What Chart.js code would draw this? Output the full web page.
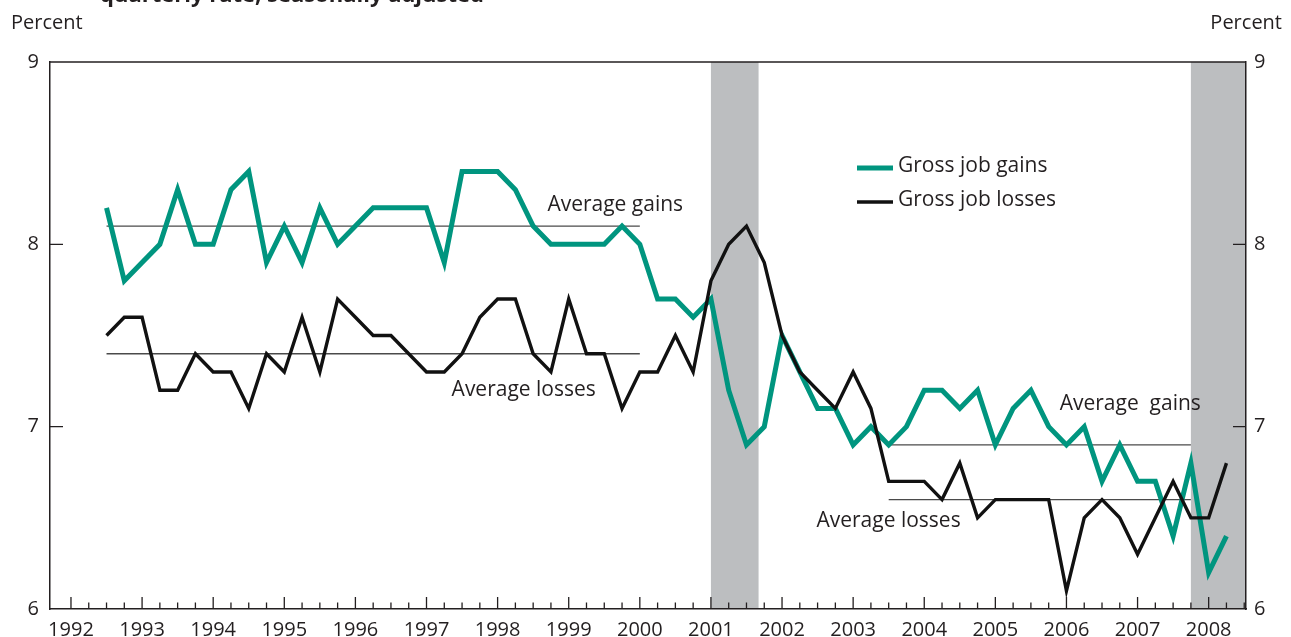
<!DOCTYPE html>
<html>
<head>
<meta charset="utf-8">
<script src="https://cdn.jsdelivr.net/npm/chart.js@4/dist/chart.umd.min.js"></script>
<style>
  html, body { margin: 0; padding: 0; background: #fff; }
  #wrap { width: 1291px; height: 637px; position: relative; }
</style>
</head>
<body>
<div id="wrap"><canvas id="myChart"></canvas></div>
<script>
// quarterly observations, 1992 Q3 - 2008 Q2
const quarters = [
  '1992Q3','1992Q4',
  '1993Q1','1993Q2','1993Q3','1993Q4',
  '1994Q1','1994Q2','1994Q3','1994Q4',
  '1995Q1','1995Q2','1995Q3','1995Q4',
  '1996Q1','1996Q2','1996Q3','1996Q4',
  '1997Q1','1997Q2','1997Q3','1997Q4',
  '1998Q1','1998Q2','1998Q3','1998Q4',
  '1999Q1','1999Q2','1999Q3','1999Q4',
  '2000Q1','2000Q2','2000Q3','2000Q4',
  '2001Q1','2001Q2','2001Q3','2001Q4',
  '2002Q1','2002Q2','2002Q3','2002Q4',
  '2003Q1','2003Q2','2003Q3','2003Q4',
  '2004Q1','2004Q2','2004Q3','2004Q4',
  '2005Q1','2005Q2','2005Q3','2005Q4',
  '2006Q1','2006Q2','2006Q3','2006Q4',
  '2007Q1','2007Q2','2007Q3','2007Q4',
  '2008Q1','2008Q2'
];

const grossJobGains = [
  8.2, 7.8,
  7.9, 8.0, 8.3, 8.0,
  8.0, 8.3, 8.4, 7.9,
  8.1, 7.9, 8.2, 8.0,
  8.1, 8.2, 8.2, 8.2,
  8.2, 7.9, 8.4, 8.4,
  8.4, 8.3, 8.1, 8.0,
  8.0, 8.0, 8.0, 8.1,
  8.0, 7.7, 7.7, 7.6,
  7.7, 7.2, 6.9, 7.0,
  7.5, 7.3, 7.1, 7.1,
  6.9, 7.0, 6.9, 7.0,
  7.2, 7.2, 7.1, 7.2,
  6.9, 7.1, 7.2, 7.0,
  6.9, 7.0, 6.7, 6.9,
  6.7, 6.7, 6.4, 6.8,
  6.2, 6.4
];

const grossJobLosses = [
  7.5, 7.6,
  7.6, 7.2, 7.2, 7.4,
  7.3, 7.3, 7.1, 7.4,
  7.3, 7.6, 7.3, 7.7,
  7.6, 7.5, 7.5, 7.4,
  7.3, 7.3, 7.4, 7.6,
  7.7, 7.7, 7.4, 7.3,
  7.7, 7.4, 7.4, 7.1,
  7.3, 7.3, 7.5, 7.3,
  7.8, 8.0, 8.1, 7.9,
  7.5, 7.3, 7.2, 7.1,
  7.3, 7.1, 6.7, 6.7,
  6.7, 6.6, 6.8, 6.5,
  6.6, 6.6, 6.6, 6.6,
  6.1, 6.5, 6.6, 6.5,
  6.3, 6.5, 6.7, 6.5,
  6.5, 6.8
];

// averages over two periods
const avgPeriodStart = ['1992Q3', '2003Q3'];
const avgPeriodEnd = ['2000Q1', '2007Q4'];
const avgGains = [8.1, 6.9];
const avgLosses = [7.4, 6.6];

// recession shading (decimal years); null end = runs to the edge of the chart
const recessionStart = [2001.0, 2007.75];
const recessionEnd = [2001.67, null];

const yearLabels = [1992, 1993, 1994, 1995, 1996, 1997, 1998, 1999, 2000,
                    2001, 2002, 2003, 2004, 2005, 2006, 2007, 2008];

const FONT = "'Open Sans', 'Noto Sans', sans-serif";
const INK = '#231f20';
const GREEN = '#00957f';

function toYear(q) {
  return Number(q.slice(0, 4)) + (Number(q.slice(5)) - 1) / 4;
}

const gainsPoints = quarters.map((q, i) => ({ x: toYear(q), y: grossJobGains[i] }));
const lossesPoints = quarters.map((q, i) => ({ x: toYear(q), y: grossJobLosses[i] }));

const avgDatasets = [];
avgPeriodStart.forEach((s, i) => {
  [avgGains[i], avgLosses[i]].forEach(v => {
    avgDatasets.push({
      label: 'avg',
      data: [{ x: toYear(s), y: v }, { x: toYear(avgPeriodEnd[i]), y: v }],
      borderColor: '#4a4a4a',
      borderWidth: 1.3,
      pointRadius: 0,
      order: 3
    });
  });
});

const decorations = {
  id: 'decorations',
  beforeDraw(chart) {
    const { ctx, chartArea: a, scales: { x } } = chart;
    ctx.save();
    ctx.fillStyle = '#bcbec0';
    recessionStart.forEach((s, i) => {
      const x0 = x.getPixelForValue(s);
      const x1 = recessionEnd[i] == null ? a.right : x.getPixelForValue(recessionEnd[i]);
      ctx.fillRect(x0, a.top, x1 - x0, a.bottom - a.top);
    });
    ctx.restore();
  },
  afterDraw(chart) {
    const { ctx, chartArea: a, scales: { x, y } } = chart;
    ctx.save();

    // top border
    ctx.strokeStyle = INK;
    ctx.lineWidth = 1.5;
    ctx.beginPath();
    ctx.moveTo(a.left, a.top);
    ctx.lineTo(a.right, a.top);
    ctx.stroke();

    // inner tick marks on the time axis
    ctx.lineWidth = 1.3;
    ctx.beginPath();
    for (let yr = yearLabels[0]; yr <= x.max; yr += 0.25) {
      const px = x.getPixelForValue(yr);
      const len = Number.isInteger(yr) ? 12 : 6.5;
      ctx.moveTo(px, a.bottom);
      ctx.lineTo(px, a.bottom - len);
    }
    // inner ticks on both value axes
    [7, 8].forEach(v => {
      const py = y.getPixelForValue(v);
      ctx.moveTo(a.left, py);
      ctx.lineTo(a.left + 13, py);
      ctx.moveTo(a.right, py);
      ctx.lineTo(a.right - 13, py);
    });
    ctx.stroke();

    // axis unit labels
    ctx.fillStyle = INK;
    ctx.font = '20px ' + FONT;
    ctx.textBaseline = 'alphabetic';
    ctx.textAlign = 'left';
    ctx.fillText('Percent', 11, 29);
    ctx.textAlign = 'right';
    ctx.fillText('Percent', 1282, 29);

    // clipped subtitle at the very top
    ctx.textAlign = 'left';
    ctx.font = 'bold 22px ' + FONT;
    ctx.fillText('quarterly rate, seasonally adjusted', 100, 2);

    // average annotations
    ctx.font = '21px ' + FONT;
    const notes = [
      ['Average gains', 1998.70, 8.185],
      ['Average losses', 1997.353, 7.166],
      ['Average  gains', 2005.905, 7.089],
      ['Average losses', 2002.484, 6.447]
    ];
    notes.forEach(([t, nx, ny]) => {
      ctx.fillText(t, x.getPixelForValue(nx), y.getPixelForValue(ny));
    });

    // legend
    const legendItems = chart.data.datasets.filter(d => d.label !== 'avg');
    legendItems.forEach((d, i) => {
      const ly = 168 + i * 34;
      ctx.strokeStyle = d.borderColor;
      ctx.lineWidth = d.borderWidth;
      ctx.beginPath();
      ctx.moveTo(857, ly);
      ctx.lineTo(893, ly);
      ctx.stroke();
      ctx.fillStyle = INK;
      ctx.fillText(d.label, 898, ly + 3.5);
    });

    ctx.restore();
  }
};

const ctx = document.getElementById('myChart').getContext('2d');
window.myChart = new Chart(ctx, {
  type: 'line',
  data: {
    datasets: [
      {
        label: 'Gross job gains',
        data: gainsPoints,
        borderColor: GREEN,
        borderWidth: 5,
        pointRadius: 0,
        borderJoinStyle: 'miter',
        order: 2
      },
      {
        label: 'Gross job losses',
        data: lossesPoints,
        borderColor: '#111111',
        borderWidth: 3.4,
        pointRadius: 0,
        borderJoinStyle: 'miter',
        order: 1
      },
      ...avgDatasets
    ]
  },
  options: {
    responsive: true,
    maintainAspectRatio: false,
    animation: false,
    layout: { padding: { top: 62, left: 0, right: 0, bottom: 0 } },
    plugins: {
      legend: { display: false },
      tooltip: { enabled: false }
    },
    elements: { line: { tension: 0 } },
    scales: {
      x: {
        type: 'linear',
        min: 1991.705,
        max: 2008.525,
        afterBuildTicks: s => { s.ticks = yearLabels.map(v => ({ value: v })); },
        afterFit: s => { s.height = 28; },
        grid: { display: false, drawTicks: false },
        border: { display: true, color: INK, width: 1.5 },
        ticks: {
          padding: 9,
          autoSkip: false,
          maxRotation: 0,
          color: INK,
          font: { family: FONT, size: 20 },
          callback: v => String(v)
        }
      },
      y: {
        position: 'left',
        min: 6,
        max: 9,
        afterFit: s => { s.width = 50; },
        grid: { display: false, drawTicks: false },
        border: { display: true, color: INK, width: 1.5 },
        ticks: { stepSize: 1, padding: 11, color: INK, font: { family: FONT, size: 20 } }
      },
      y2: {
        position: 'right',
        min: 6,
        max: 9,
        afterFit: s => { s.width = 45; },
        grid: { display: false, drawTicks: false },
        border: { display: true, color: INK, width: 1.5 },
        ticks: { stepSize: 1, padding: 8, color: INK, font: { family: FONT, size: 20 } }
      }
    }
  },
  plugins: [decorations]
});
</script>
</body>
</html>
